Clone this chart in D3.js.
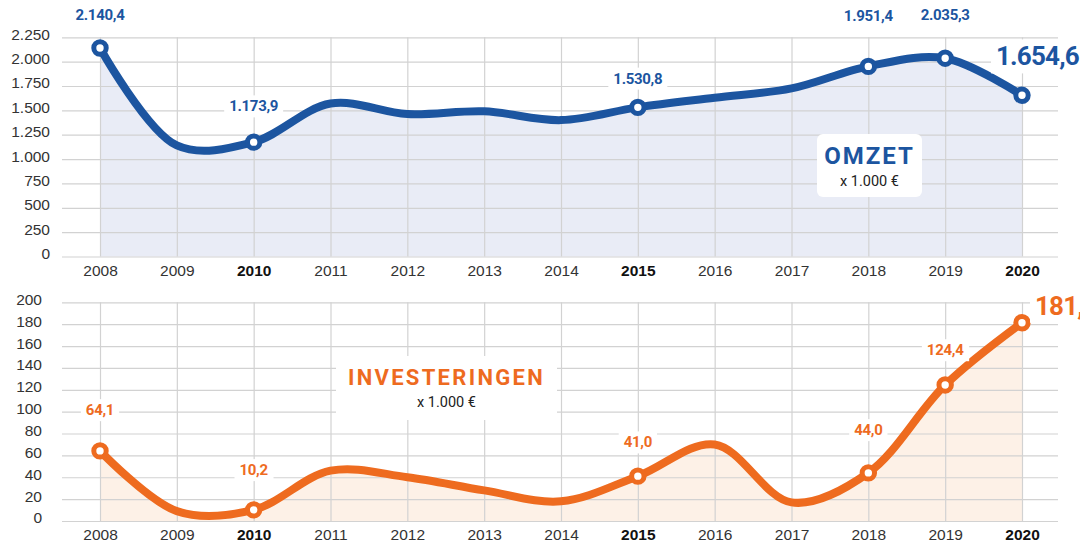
<!DOCTYPE html>
<html>
<head>
<meta charset="utf-8">
<script src="https://cdn.jsdelivr.net/npm/d3@7"></script>
<style>
  body { margin: 0; background: #fff; }
  svg { display: block; font-family: Roboto, "Noto Sans", sans-serif; }
</style>
</head>
<body>
<div id="chart"></div>
<script>
// Data
var years = [2008, 2009, 2010, 2011, 2012, 2013, 2014, 2015, 2016, 2017, 2018, 2019, 2020];
var omzet = [2140.4, 1140, 1173.9, 1570, 1462, 1490, 1400, 1530.8, 1630, 1725, 1951.4, 2035.3, 1654.6];
var investeringen = [64.1, 9, 10.2, 46, 40, 28, 18, 41.0, 70, 17, 44.0, 124.4, 181.3];
var markedYears = [2008, 2010, 2015, 2018, 2019, 2020];
var boldYears = [2010, 2015, 2020];
var omzetTicks = [0, 250, 500, 750, 1000, 1250, 1500, 1750, 2000, 2250];
var invTicks = [0, 20, 40, 60, 80, 100, 120, 140, 160, 180, 200];

var svgWidth = 1080;
var svgHeight = 544;

var nl = d3.formatLocale({ decimal: ",", thousands: ".", grouping: [3], currency: ["", " €"] });
var fmtTick = nl.format(",");
var fmtVal = nl.format(",.1f");

var svg = d3.select("#chart")
    .append("svg")
    .attr("width", svgWidth)
    .attr("height", svgHeight);

var gridLeft = 62, gridRight = 1058;

var xScale = d3.scaleLinear()
    .domain([2008, 2020])
    .range([100, 1022]);

// one panel (area + grid + line + markers + labels)
function drawPanel(cfg) {
    var yScale = d3.scaleLinear()
        .domain([0, cfg.max])
        .range([cfg.bottom, cfg.top]);

    var g = svg.append("g");
    var data = years.map(function(y, i) { return { year: y, value: cfg.values[i] }; });

    // area fill
    var area = d3.area()
        .x(d => xScale(d.year))
        .y0(yScale(0))
        .y1(d => yScale(d.value))
        .curve(d3.curveCatmullRom);

    g.append("path")
        .datum(data)
        .attr("d", area)
        .attr("fill", cfg.fill);

    // horizontal grid + y labels
    var leftAxis = d3.axisLeft(yScale)
        .tickValues(cfg.ticks)
        .tickFormat(fmtTick)
        .tickSize(-(gridRight - gridLeft))
        .tickPadding(cfg.yPad);

    var ya = g.append("g")
        .attr("transform", `translate(${gridLeft}, 0)`)
        .call(leftAxis);
    ya.select(".domain").remove();
    ya.selectAll("line").attr("stroke", "#d2d2d2").attr("stroke-width", 1.2);
    ya.selectAll("text")
        .attr("dy", "0.32em")
        .attr("y", -3)
        .attr("fill", "#333")
        .style("font-size", "15.5px");

    // vertical grid + year labels
    var bottomAxis = d3.axisBottom(xScale)
        .tickValues(years)
        .tickFormat(d3.format("d"))
        .tickSize(-(cfg.bottom - cfg.top))
        .tickPadding(8);

    var xa = g.append("g")
        .attr("transform", `translate(0, ${cfg.bottom})`)
        .call(bottomAxis);
    xa.select(".domain").remove();
    xa.selectAll("line").attr("stroke", "#d2d2d2").attr("stroke-width", 1.2);
    xa.selectAll("text")
        .attr("y", 14)
        .attr("dy", "0.35em")
        .attr("fill", d => boldYears.includes(d) ? "#111" : "#333")
        .style("font-weight", d => boldYears.includes(d) ? "700" : "400")
        .style("font-size", "15.5px");

    // line
    var line = d3.line()
        .x(d => xScale(d.year))
        .y(d => yScale(d.value))
        .curve(d3.curveCatmullRom);

    g.append("path")
        .datum(data)
        .attr("d", line)
        .attr("fill", "none")
        .attr("stroke", cfg.color)
        .attr("stroke-width", 8)
        .attr("stroke-linecap", "round");

    var marked = data.filter(d => markedYears.includes(d.year));

    g.selectAll("circle.mark")
        .data(marked)
        .enter()
        .append("circle")
        .attr("class", "mark")
        .attr("cx", d => xScale(d.year))
        .attr("cy", d => yScale(d.value))
        .attr("r", 6.2)
        .attr("fill", "#fff")
        .attr("stroke", cfg.color)
        .attr("stroke-width", 5);

    // value labels with white backing
    marked.forEach(function(d, i) {
        var lay = cfg.labels[i];
        var lg = g.append("g");
        var t = lg.append("text")
            .attr("x", xScale(d.year) + (lay.dx || 0))
            .attr("y", yScale(d.value) + lay.dy)
            .attr("dy", "0.35em")
            .attr("text-anchor", lay.big ? "start" : "middle")
            .attr("fill", cfg.color)
            .style("font-weight", "700")
            .style("font-size", lay.big ? "26px" : "15px")
            .style("letter-spacing", lay.big ? "-0.8px" : "-0.3px")
            .text(cfg.labelText(d.value));
        var bb = t.node().getBBox();
        lg.insert("rect", "text")
            .attr("x", bb.x - 5)
            .attr("y", bb.y - 2)
            .attr("width", bb.width + 10)
            .attr("height", bb.height + 4)
            .attr("fill", "#fff");
    });

    // title box
    var box = cfg.box;
    var bg = g.append("g");
    bg.append("rect")
        .attr("x", box.x)
        .attr("y", box.y)
        .attr("width", box.w)
        .attr("height", box.h)
        .attr("rx", 6)
        .attr("fill", "#fff");
    bg.append("text")
        .attr("x", box.x + box.w / 2)
        .attr("y", box.y + box.titleY)
        .attr("dy", "0.35em")
        .attr("text-anchor", "middle")
        .attr("fill", cfg.color)
        .style("font-weight", "700")
        .style("font-size", box.size + "px")
        .style("letter-spacing", box.spacing + "px")
        .text(cfg.title);
    bg.append("text")
        .attr("x", box.x + box.w / 2)
        .attr("y", box.y + box.titleY + 25)
        .attr("dy", "0.35em")
        .attr("text-anchor", "middle")
        .attr("fill", "#222")
        .style("font-size", "14.5px")
        .text("x 1.000 €");
}

drawPanel({
    values: omzet,
    max: 2250,
    ticks: omzetTicks,
    top: 37.3,
    bottom: 256.5,
    yPad: 12,
    color: "#1c55a0",
    fill: "#e9ecf6",
    title: "OMZET",
    labelText: v => fmtVal(v),
    labels: [{ dy: -33 }, { dy: -36 }, { dy: -29 }, { dy: -51 }, { dy: -43 }, { dy: -39, dx: -26, big: true }],
    box: { x: 817, y: 134, w: 105, h: 63, titleY: 22, size: 24, spacing: 2 }
});

drawPanel({
    values: investeringen,
    max: 200,
    ticks: invTicks,
    top: 302.3,
    bottom: 521,
    yPad: 20,
    color: "#ee6b1f",
    fill: "#fdf1e7",
    title: "INVESTERINGEN",
    labelText: v => fmtVal(v),
    labels: [{ dy: -41 }, { dy: -40 }, { dy: -34 }, { dy: -43 }, { dy: -35 }, { dy: -17, dx: 13, big: true }],
    box: { x: 336, y: 356, w: 221, h: 64, titleY: 21, size: 22, spacing: 2.3 }
});
</script>
</body>
</html>
